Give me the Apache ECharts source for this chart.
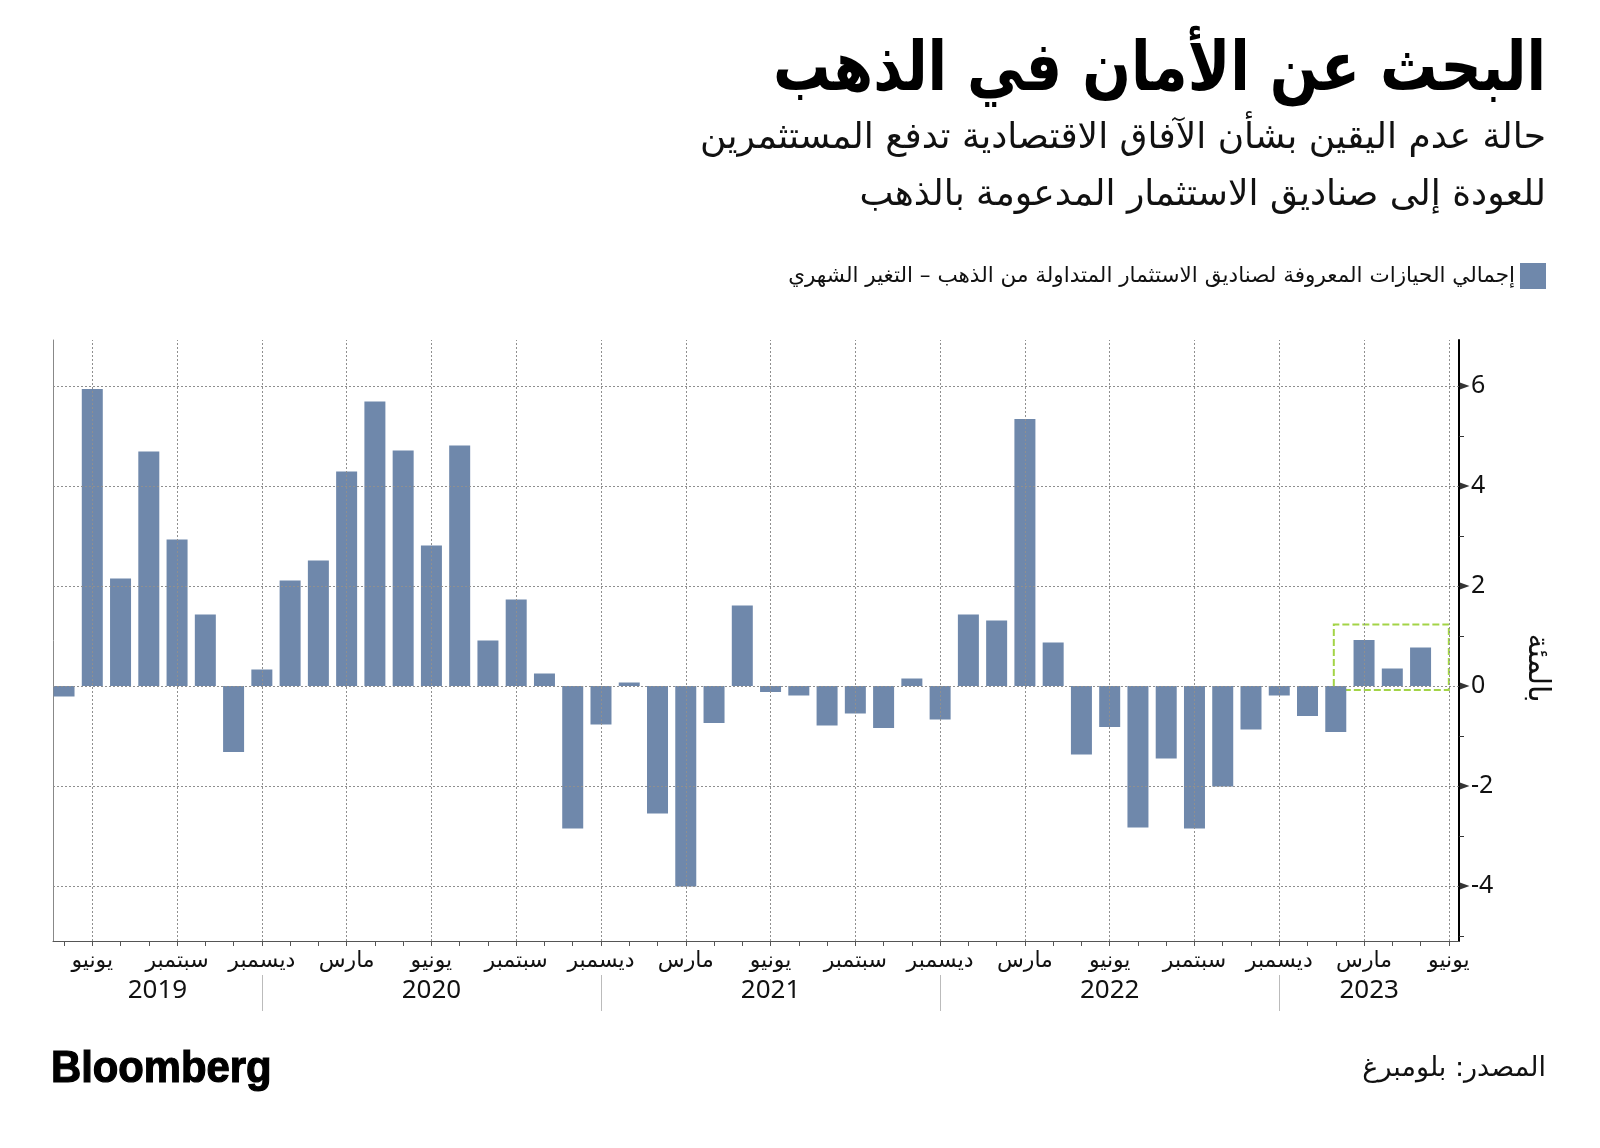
<!DOCTYPE html>
<html><head><meta charset="utf-8">
<script src="https://cdn.jsdelivr.net/npm/echarts@6/dist/echarts.min.js"></script>
<style>html,body{margin:0;padding:0;background:#fff}#c{width:1600px;height:1148px}</style>
</head><body><div id="c"></div>
<script>
// ---- data ----
const FIRST_YEAR = 2019;
const FIRST_MONTH = 5; // May 2019 (1-based month)
const values = [
  -0.21, 5.94, 2.15, 4.69, 2.93, 1.43, -1.32, 0.33,          // May-Dec 2019
  2.11, 2.51, 4.29, 5.69, 4.71, 2.81, 4.81, 0.91, 1.73, 0.25, -2.85, -0.77, // 2020
  0.07, -2.55, -4.01, -0.74, 1.61, -0.12, -0.19, -0.79, -0.55, -0.84, 0.15, -0.67, // 2021
  1.43, 1.31, 5.34, 0.87, -1.37, -0.82, -2.83, -1.45, -2.85, -2.01, -0.87, -0.19, // 2022
  -0.6, -0.92, 0.92, 0.35, 0.77                                // Jan-May 2023
];
const monthNames = {3: 'مارس', 6: 'يونيو', 9: 'سبتمبر', 12: 'ديسمبر'};
const labeledMonths = [3, 6, 9, 12];
const yearLabels = ['2019', '2020', '2021', '2022', '2023'];
const yTickValues = [-4, -2, 0, 2, 4, 6];
const yMinorTicks = [-5, -3, -1, 1, 3, 5];
const seriesName = 'إجمالي الحيازات المعروفة لصناديق الاستثمار المتداولة من الذهب – التغير الشهري';
const titleText = 'البحث عن الأمان في الذهب';
const subtitle1 = 'حالة عدم اليقين بشأن الآفاق الاقتصادية تدفع المستثمرين';
const subtitle2 = 'للعودة إلى صناديق الاستثمار المدعومة بالذهب';
const yAxisName = 'بالمئة';
const sourceText = 'المصدر: بلومبرغ';

// ---- derived ----
const XMIN = -0.39, XMAX = 49.36, YMIN = -5.1, YMAX = 6.92;
const nTicks = values.length + 1; // includes June 2023 tick
const monthOf = i => ((FIRST_MONTH - 1 + i) % 12) + 1;
const allIdx = [], labeledIdx = [], sepIdx = [];
for (let i = 0; i < nTicks; i++) {
  allIdx.push(i);
  if (labeledMonths.includes(monthOf(i))) labeledIdx.push(i);
  if (monthOf(i) === 12) sepIdx.push(i);
}
const bounds = [XMIN, ...sepIdx, XMAX];
const yearCenters = [], yearMap = {};
for (let k = 0; k < yearLabels.length; k++) {
  const c = (bounds[k] + bounds[k + 1]) / 2;
  yearCenters.push(c);
  yearMap[c.toFixed(3)] = yearLabels[k];
}
const barData = values.map((v, i) => [i, v]);

const AR = "'DejaVu Sans', 'Noto Sans', sans-serif";
const NUM = "'Noto Sans', 'DejaVu Sans', sans-serif";
const COLOR = '#6f88ab';

const chart = echarts.init(document.getElementById('c'), null, {renderer: 'canvas'});
chart.setOption({
  animation: false,
  backgroundColor: '#fff',
  grid: {left: 53, right: 141, top: 340, bottom: 207},
  legend: {
    data: [seriesName], right: 54, top: 263, padding: 0,
    itemWidth: 26, itemHeight: 26, icon: 'rect', align: 'right',
    textStyle: {fontSize: 21.5, fontFamily: AR, color: '#111'}
  },
  xAxis: [{
    type: 'value', min: XMIN, max: XMAX, position: 'bottom',
    axisLine: {show: true, onZero: false, lineStyle: {color: '#555', width: 1}},
    axisTick: {show: true, customValues: allIdx, length: 5, lineStyle: {color: '#555'}},
    axisLabel: {customValues: labeledIdx, formatter: v => monthNames[monthOf(Math.round(v))],
      fontSize: 22, color: '#111', margin: 9, fontFamily: AR},
    splitLine: {show: false}
  }, {
    type: 'value', min: XMIN, max: XMAX, position: 'bottom', offset: 34,
    axisLine: {show: false, onZero: false},
    axisTick: {show: true, customValues: sepIdx, length: 36, lineStyle: {color: '#bbb'}},
    axisLabel: {customValues: yearCenters, formatter: v => yearMap[v.toFixed(3)] || '',
      fontSize: 26, color: '#111', margin: 3, fontFamily: NUM},
    splitLine: {show: false}
  }],
  yAxis: [{
    type: 'value', position: 'right', min: YMIN, max: YMAX,
    axisLine: {show: true, onZero: false, lineStyle: {color: '#000', width: 2}},
    axisTick: {show: true, customValues: yMinorTicks, length: 5, lineStyle: {color: '#333'}},
    axisLabel: {customValues: yTickValues, fontSize: 25, margin: 12, color: '#111', fontFamily: NUM},
    splitLine: {show: false}
  }, {
    type: 'value', position: 'left', min: YMIN, max: YMAX,
    axisLine: {show: true, onZero: false, lineStyle: {color: '#888', width: 1}},
    axisTick: {show: false}, axisLabel: {show: false}, splitLine: {show: false}
  }],
  series: [{
    type: 'line', data: [], z: 1, silent: true,
    markLine: {
      silent: true, symbol: 'none', label: {show: false},
      lineStyle: {type: [2, 2], color: '#8f8f8f', width: 1},
      data: [...yTickValues.map(v => ({yAxis: v})), ...labeledIdx.map(i => ({xAxis: i}))]
    }
  }, {
    name: seriesName, type: 'bar', data: barData, barWidth: 21, z: 2,
    itemStyle: {color: COLOR},
    markArea: {
      silent: true,
      itemStyle: {color: 'rgba(0,0,0,0)', borderColor: '#a3d447', borderWidth: 2, borderType: [7, 3]},
      data: [[{xAxis: 44.93, yAxis: -0.08}, {xAxis: 49, yAxis: 1.23}]]
    }
  }, {
    type: 'scatter', clip: false, silent: true, z: 5,
    data: yTickValues.map(v => [XMAX, v]),
    symbol: 'triangle', symbolRotate: -90, symbolSize: [8, 11], symbolOffset: [5, 0],
    itemStyle: {color: '#000'}
  }],
  graphic: [
    {type: 'text', x: 1546, y: 72, scaleX: 0.84,
      style: {text: titleText, font: `bold 68px ${AR}`, fill: '#000', align: 'right', verticalAlign: 'middle'}},
    {type: 'text', x: 1546, y: 139,
      style: {text: subtitle1, font: `36px ${AR}`, fill: '#111', align: 'right', verticalAlign: 'middle'}},
    {type: 'text', x: 1546, y: 196,
      style: {text: subtitle2, font: `36px ${AR}`, fill: '#111', align: 'right', verticalAlign: 'middle'}},
    {type: 'text', x: 1537, y: 668, rotation: -Math.PI / 2,
      style: {text: yAxisName, font: `30px ${AR}`, fill: '#111', align: 'center', verticalAlign: 'middle'}},
    {type: 'text', x: 51, y: 1070, scaleX: 0.95,
      style: {text: 'Bloomberg', font: "bold 44px 'Liberation Sans', Arial, sans-serif", fill: '#000',
        stroke: '#000', lineWidth: 1.2, align: 'left', verticalAlign: 'middle'}},
    {type: 'text', x: 1546, y: 1069,
      style: {text: sourceText, font: `27px ${AR}`, fill: '#111', align: 'right', verticalAlign: 'middle'}}
  ]
});
</script></body></html>
